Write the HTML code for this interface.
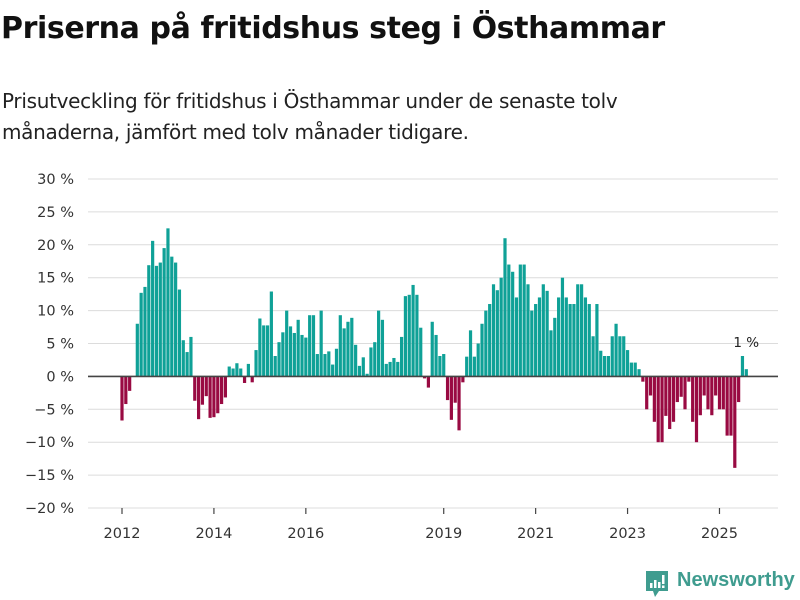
<!DOCTYPE html>
<html><head><meta charset="utf-8"><style>
body{margin:0;background:#fff;font-family:"DejaVu Sans","Liberation Sans",sans-serif;}
#wrap{position:relative;width:800px;height:600px;overflow:hidden;}
h1{position:absolute;left:1px;top:11px;margin:0;font-size:30px;font-weight:bold;color:#111;letter-spacing:-0.4px;}
p.sub{position:absolute;left:2px;top:86px;margin:0;font-size:20px;line-height:31px;color:#222;letter-spacing:-0.3px;}
</style></head><body>
<div id="wrap">
<h1>Priserna på fritidshus steg i Östhammar</h1>
<p class="sub">Prisutveckling för fritidshus i Östhammar under de senaste tolv<br>månaderna, jämfört med tolv månader tidigare.</p>
<svg id="chart" width="800" height="600" style="position:absolute;left:0;top:0"></svg>
<div style="position:absolute;left:645px;top:570px;height:26px;">
<svg width="24" height="30" style="position:absolute;left:0;top:0"><path d="M1 1h22v20H14l-4 6-2-6H1z" fill="#3f9c8f"/><rect x="5" y="13" width="2.5" height="5" fill="#fff"/><rect x="9" y="10" width="2.5" height="8" fill="#fff"/><rect x="13" y="12" width="2.5" height="6" fill="#fff"/><rect x="17" y="5" width="2.5" height="9" fill="#fff"/><rect x="17" y="15.5" width="2.5" height="2.5" fill="#fff"/></svg>
<span style="position:absolute;left:32px;top:-1px;font-size:20px;font-weight:bold;color:#3f9c8f;white-space:nowrap;font-family:'Liberation Sans',sans-serif">Newsworthy</span>
</div>
</div>
<script>
const values = [-6.7,-4.2,-2.2,0,8.0,12.7,13.6,16.9,20.6,16.8,17.3,19.5,22.5,18.2,17.3,13.2,5.5,3.7,6.0,
-3.7,-6.5,-4.3,-3.0,-6.3,-6.2,-5.6,-4.2,-3.2,
1.5,1.2,2.0,1.2,-1.0,1.9,-0.9,4.0,
8.8,7.75,7.75,12.9,3.1,5.2,6.7,10.0,7.6,6.6,8.6,6.3,5.9,9.3,9.3,3.4,10.0,3.4,3.8,1.8,4.2,9.3,7.3,8.3,8.9,4.8,1.6,2.9,0.4,4.4,5.2,10.0,8.6,1.9,2.2,2.8,2.2,6.0,12.2,12.4,13.9,12.4,7.4,-0.3,-1.7,8.3,6.3,3.1,3.4,
-3.6,-6.6,-4.0,-8.2,-0.9,
3.0,7.0,3.0,5.0,8.0,10.0,11.0,14.0,13.1,15.0,21.0,17.0,15.9,12.0,17.0,17.0,14.0,10.0,11.0,12.0,14.0,13.0,7.0,8.9,12.0,15.0,12.0,11.0,11.0,14.0,14.0,12.0,11.0,6.1,11.0,
3.9,3.1,3.1,6.1,8.0,6.1,6.1,4.0,2.1,2.1,1.1,
-0.8,-5.0,-2.9,-6.9,-10.0,-10.0,-6.0,-8.0,-6.9,-3.9,-3.1,-5.0,-0.8,-6.9,-10.0,-5.9,-2.9,-5.0,-5.9,-2.9,-5.0,-5.0,-9.0,-9.0,-13.9,-3.9,
3.1,1.1];
const yTicks = [30,25,20,15,10,5,0,-5,-10,-15,-20];
const xTickYears = [2012,2014,2016,2019,2021,2023,2025];
const startYear = 2012;
const lastLabel = "1 %";

const svg = document.getElementById('chart');
const NS = 'http://www.w3.org/2000/svg';
const x0 = 122, step = 3.83, left = 88, right = 778;
const yTop = 179, yBot = 508, vMax = 30, vMin = -20;
const FONT = 'DejaVu Sans, Liberation Sans, sans-serif';
function y(v){ return yTop + (vMax - v) / (vMax - vMin) * (yBot - yTop); }
function x(i){ return x0 + i * step; }
function mk(tag, attrs){ const e = document.createElementNS(NS, tag); for (const k in attrs) e.setAttribute(k, attrs[k]); svg.appendChild(e); return e; }

yTicks.forEach(t => {
  const g = mk('line', {x1:left, x2:right, y1:y(t), y2:y(t), stroke:'#dcdcdc', 'stroke-width':1});
  
  
  const lb = mk('text', {x:74, y:y(t)+5, 'text-anchor':'end', 'font-size':14.5, fill:'#333', 'font-family':FONT});
  lb.textContent = (t < 0 ? '−' + (-t) : t) + ' %';
  
  
});

values.forEach((v, i) => {
  const top = Math.min(y(v), y(0)), h = Math.abs(y(v) - y(0));
  const r = mk('rect', {x:x(i)-1.6, y:top, width:3.2, height:h, fill: v >= 0 ? '#0fa197' : '#990a42'});
  
  
});

const zl = mk('line', {x1:left, x2:right, y1:y(0), y2:y(0), stroke:'#444', 'stroke-width':1.6});



xTickYears.forEach(yr => {
  const i = (yr - startYear) * 12;
  const tk = mk('line', {x1:x(i), x2:x(i), y1:yBot, y2:yBot+6, stroke:'#444', 'stroke-width':1.2});
  
  
  const lb = mk('text', {x:x(i), y:538, 'text-anchor':'middle', 'font-size':14.5, fill:'#333', 'font-family':FONT});
  lb.textContent = yr;
  
  
});

const li = values.length - 1;
const al = mk('text', {x:x(li), y:Math.min(y(values[li]), y(0)) - 22, 'text-anchor':'middle', 'font-size':13.5, fill:'#222', 'font-family':FONT});
al.textContent = lastLabel;


</script>
</body></html>
